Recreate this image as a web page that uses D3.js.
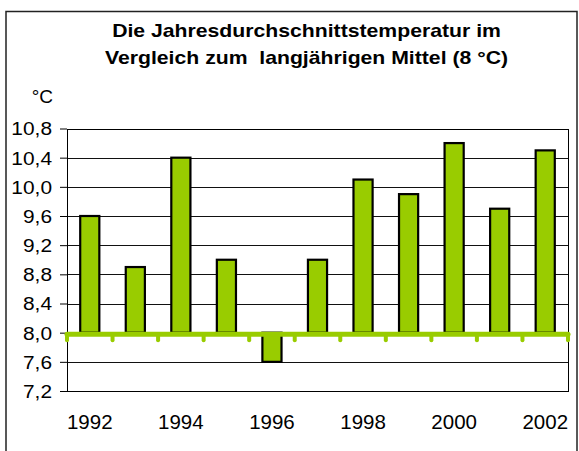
<!DOCTYPE html>
<html>
<head>
<meta charset="utf-8">
<script src="https://cdn.jsdelivr.net/npm/d3@7"></script>
<style>
  body { margin: 0; background: #fff; }
  text { font-family: "Liberation Sans", Arial, sans-serif; fill: #000; }
</style>
</head>
<body>
<div id="chart"></div>
<script>
// data
const years = ["1992", "1993", "1994", "1995", "1996", "1997", "1998", "1999", "2000", "2001", "2002"];
const temps = [9.6, 8.9, 10.4, 9.0, 7.6, 9.0, 10.1, 9.9, 10.6, 9.7, 10.5];
const yTicks = [7.2, 7.6, 8.0, 8.4, 8.8, 9.2, 9.6, 10.0, 10.4, 10.8];
const xLabels = ["1992", "1994", "1996", "1998", "2000", "2002"];
const mean = 8.0;
const titleLines = ["Die Jahresdurchschnittstemperatur im", "Vergleich zum  langjährigen Mittel (8 °C)"];

const W = 579, H = 451;
const plot = { left: 67, right: 568, top: 128.5, bottom: 391 };

const svg = d3.select("#chart")
    .append("svg")
    .attr("width", W)
    .attr("height", H);

// outer frame
svg.append("rect")
    .attr("x", 6).attr("y", 11.5)
    .attr("width", 571).attr("height", 470)
    .attr("fill", "none")
    .attr("stroke", "#222")
    .attr("stroke-width", 1.5);

// title
svg.append("g")
    .selectAll("text")
    .data(titleLines)
    .join("text")
    .attr("transform", (d, i) => `translate(306.5, ${36.5 + i * 27}) scale(1.14, 1)`)
    .attr("text-anchor", "middle")
    .style("font-size", "18.6px")
    .style("font-weight", "bold")
    .style("white-space", "pre")
    .attr("xml:space", "preserve")
    .text(d => d);

// unit label
svg.append("text")
    .attr("x", 53).attr("y", 103)
    .attr("text-anchor", "end")
    .style("font-size", "19px")
    .text("°C");

// scales
const x = d3.scaleBand()
    .domain(years)
    .range([plot.left, plot.right])
    .padding(0);

const y = d3.scaleLinear()
    .domain([7.2, 10.8])
    .range([plot.bottom, plot.top]);

// gridlines
svg.append("g")
    .selectAll("line")
    .data(yTicks)
    .join("line")
    .attr("x1", plot.left).attr("x2", plot.right)
    .attr("y1", d => Math.round(y(d)) + 0.5)
    .attr("y2", d => Math.round(y(d)) + 0.5)
    .attr("stroke", "#111")
    .attr("stroke-width", 1);

// y axis
const yAxis = svg.append("g")
    .attr("transform", `translate(${plot.left},0)`)
    .call(d3.axisLeft(y)
        .tickValues(yTicks)
        .tickSize(7)
        .tickPadding(0)
        .tickFormat(d => d3.format(".1f")(d).replace(".", ",")));
yAxis.select(".domain").remove();
yAxis.selectAll(".tick line").attr("stroke", "#000");
yAxis.selectAll(".tick text")
    .attr("x", null)
    .attr("dy", null)
    .attr("text-anchor", "end")
    .attr("dominant-baseline", "central")
    .attr("transform", "translate(-15,0) scale(1.18,1)")
    .style("font-size", "17.7px")
    .style("font-family", "'Liberation Sans', Arial, sans-serif")
    .attr("fill", "#000");

// plot frame
svg.append("rect")
    .attr("x", plot.left + 0.5).attr("y", Math.round(plot.top) + 0.5)
    .attr("width", plot.right - plot.left)
    .attr("height", plot.bottom - Math.round(plot.top))
    .attr("fill", "none")
    .attr("stroke", "#000")
    .attr("stroke-width", 1);

// bars
const barW = x.bandwidth() * 0.42;
svg.append("g")
    .selectAll("rect")
    .data(temps)
    .join("rect")
    .attr("x", (d, i) => x(years[i]) + (x.bandwidth() - barW) / 2)
    .attr("y", d => y(Math.max(d, mean)))
    .attr("width", barW)
    .attr("height", d => Math.abs(y(d) - y(mean)))
    .attr("fill", "#99cc00")
    .attr("stroke", "#000")
    .attr("stroke-width", 2.2);

// mean axis line (green) with tick marks at category boundaries
const baseY = y(mean) + 1.5;
const bounds = years.map(d => x(d)).concat([plot.right]);
svg.append("g")
    .selectAll("line")
    .data(bounds)
    .join("line")
    .attr("x1", d => d).attr("x2", d => d)
    .attr("y1", baseY).attr("y2", baseY + 6)
    .attr("stroke", "#99cc00")
    .attr("stroke-width", 4)
    .attr("stroke-linecap", "round");
svg.append("line")
    .attr("x1", plot.left).attr("x2", plot.right)
    .attr("y1", baseY).attr("y2", baseY)
    .attr("stroke", "#99cc00")
    .attr("stroke-width", 5)
    .attr("stroke-linecap", "round");

// x labels
svg.append("g")
    .selectAll("text")
    .data(xLabels)
    .join("text")
    .attr("x", d => x(d) + x.bandwidth() / 2)
    .attr("y", 429)
    .attr("text-anchor", "middle")
    .style("font-size", "20.5px")
    .text(d => d);
</script>
</body>
</html>
